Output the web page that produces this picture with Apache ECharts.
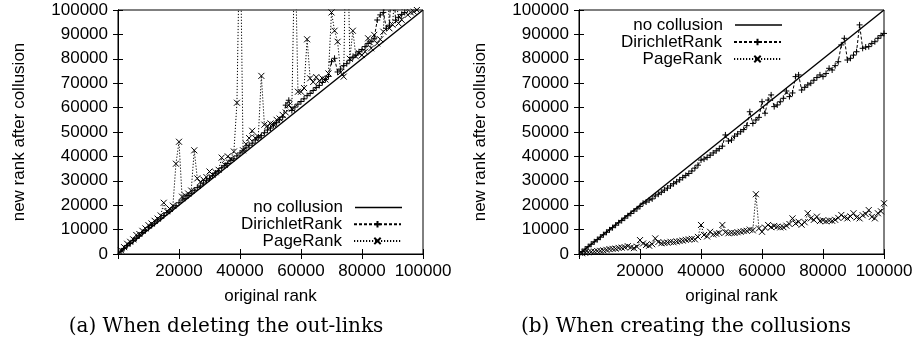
<!DOCTYPE html>
<html>
<head>
<meta charset="utf-8">
<script src="https://cdn.jsdelivr.net/npm/echarts@6/dist/echarts.min.js"></script>
<style>
  html, body { margin: 0; padding: 0; background: #ffffff; }
  #chart { width: 917px; height: 343px; }
</style>
</head>
<body>
<div id="chart"></div>
<script>
// original rank of each sampled page (x values)
const ranks = [
  1000, 2000, 3000, 4000, 5000, 6000, 7000, 8000, 9000, 10000,
  11000, 12000, 13000, 14000, 15000, 16000, 17000, 18000, 19000, 20000,
  21000, 22000, 23000, 24000, 25000, 26000, 27000, 28000, 29000, 30000,
  31000, 32000, 33000, 34000, 35000, 36000, 37000, 38000, 39000, 40000,
  41000, 42000, 43000, 44000, 45000, 46000, 47000, 48000, 49000, 50000,
  51000, 52000, 53000, 54000, 55000, 56000, 57000, 58000, 59000, 60000,
  61000, 62000, 63000, 64000, 65000, 66000, 67000, 68000, 69000, 70000,
  71000, 72000, 73000, 74000, 75000, 76000, 77000, 78000, 79000, 80000,
  81000, 82000, 83000, 84000, 85000, 86000, 87000, 88000, 89000, 90000,
  91000, 92000, 93000, 94000, 95000, 96000, 97000, 98000, 99000, 100000
];

// (a) deleting the out-links
const delDirichlet = [
  1200, 2300, 3500, 4300, 5600, 6400, 7500, 8800, 9600, 10800,
  11700, 12600, 13900, 14700, 15800, 16900, 17600, 18900, 19800, 21000,
  22100, 22800, 24000, 24900, 26100, 27200, 27900, 29100, 30200, 31000,
  32100, 33200, 34000, 35300, 36200, 37100, 38400, 39000, 40200, 41400,
  42300, 43500, 44600, 45400, 46700, 47800, 48500, 49700, 50800, 51600,
  52900, 53800, 55000, 56100, 61000, 63000, 58800, 60200, 61400, 62500,
  63600, 64900, 65800, 67000, 68200, 69100, 70300, 71500, 72800, 78800,
  80200, 74600, 75800, 77200, 78000, 79400, 80600, 81500, 82900, 83800,
  85000, 86300, 87000, 88400, 95900, 98000, 99000, 92500, 93800, 120000,
  95800, 97000, 98200, 99000, 100500, 101500, 102000, 103000, 104000, 105000
];
const delPageRank = [
  1500, 2800, 4200, 5000, 6000, 7800, 8200, 9500, 10500, 11800,
  12500, 13600, 14500, 15800, 21000, 17500, 18500, 19800, 37000, 46000,
  23500, 24000, 24800, 26000, 42500, 31000, 29500, 30500, 31500, 33800,
  32500, 33500, 34500, 39500, 36500, 40000, 39000, 42000, 62000, 140000,
  42500, 45000, 47500, 50500, 47500, 48000, 73000, 53000, 52500, 53500,
  53000, 55000, 55500, 57000, 58000, 61000, 59500, 130000, 66500, 66500,
  68000, 88000, 72000, 70500, 72500, 71000, 72000, 71500, 74000, 99000,
  91500, 87000, 74500, 72700, 150000, 80000, 91500, 81000, 82300, 81500,
  82900, 88400, 84300, 89800, 86300, 88000, 91100, 120000, 92500, 94000,
  110000, 94500, 96000, 125000, 98000, 99000, 99300, 100000, 100500, 101000
];

// (b) creating the collusions
const colDirichlet = [
  1000, 2000, 3000, 4000, 5000, 5900, 6900, 7900, 8900, 9900,
  10800, 11800, 12800, 13700, 14700, 15700, 16600, 17600, 18500, 19500,
  20800, 21300, 22100, 22600, 23800, 24500, 25300, 26200, 27000, 27900,
  28800, 29600, 30400, 31300, 32200, 33000, 34000, 35200, 36400, 38500,
  38900, 39600, 40500, 41400, 42300, 43200, 44200, 48800, 46300, 46700,
  48300, 49200, 50100, 51000, 52600, 58300, 53500, 54900, 56000, 62400,
  57700, 63100, 65200, 60400, 61100, 62400, 63800, 66800, 64500, 66000,
  72700, 73400, 67200, 68300, 69300, 70000, 71200, 72300, 73400, 72700,
  74000, 76100, 75400, 77200, 78800, 85700, 88400, 79500, 80200, 81500,
  82900, 93900, 84300, 84800, 85000, 86300, 87000, 88400, 89500, 90400
];
const colPageRank = [
  300, 500, 700, 900, 1000, 1200, 1300, 1500, 1700, 2000,
  2100, 2200, 2500, 2600, 2800, 3200, 2700, 2400, 3000, 5700,
  4300, 3700, 3400, 4000, 6400, 4900, 4400, 4500, 4700, 5000,
  4800, 5100, 5300, 5500, 5800, 6000, 6200, 6000, 7000, 11900,
  7800, 7200, 9100, 8000, 8300, 8600, 11900, 8900, 8500, 8700,
  8600, 8900, 9100, 9400, 9500, 10000, 9700, 24500, 10500, 9100,
  10800, 11900, 11000, 11500, 11200, 10900, 11000, 11600, 12300, 14600,
  12500, 13200, 12000, 13000, 16700, 14600, 14000, 15300, 13500, 13800,
  13400, 13700, 13600, 14000, 14800, 16000, 15000, 14600, 15400, 16700,
  15000, 14600, 15900, 16400, 18000, 15200, 14600, 16700, 17500, 20800
];

// reference diagonal (rank unchanged)
const diagX = [0, 100000];
const diagY = [0, 100000];

const axisMin = 0;
const axisMax = 100000;
const xStep = 20000;
const yStep = 10000;
const captions = ["(a) When deleting the out-links", "(b) When creating the collusions"];

const sans = "Liberation Sans";
const plusPath = "path://M0,5L10,5M5,0L5,10";
const crossPath = "path://M0,0L10,10M10,0L0,10";

function pairs(xs, ys) {
  return xs.map((x, i) => [x, ys[i]]);
}

// plain numbers, no thousands separator
const plain = (v) => String(v);

function mainX(gridIndex) {
  return {
    type: "value", gridIndex, min: axisMin, max: axisMax, interval: xStep,
    name: "original rank", nameLocation: "middle", nameGap: 34,
    nameTextStyle: { fontFamily: sans, fontSize: 17, color: "#000" },
    axisLine: { show: true, lineStyle: { color: "#000", width: 1 } },
    axisTick: { show: true, inside: true, length: 5, lineStyle: { color: "#000" } },
    axisLabel: {
      margin: 9, fontFamily: sans, fontSize: 17, color: "#000",
      formatter: (v) => (v === 0 ? "" : plain(v)),
    },
    splitLine: { show: false },
  };
}
function mirrorX(gridIndex) {
  return {
    type: "value", gridIndex, position: "top", min: axisMin, max: axisMax, interval: xStep,
    axisLine: { show: true, lineStyle: { color: "#000", width: 1 } },
    axisTick: { show: true, inside: true, length: 5, lineStyle: { color: "#000" } },
    axisLabel: { show: false },
    splitLine: { show: false },
  };
}
function mainY(gridIndex) {
  return {
    type: "value", gridIndex, min: axisMin, max: axisMax, interval: yStep,
    name: "new rank after collusion", nameLocation: "middle", nameGap: 90,
    nameTextStyle: { fontFamily: sans, fontSize: 17, color: "#000" },
    axisLine: { show: true, lineStyle: { color: "#000", width: 1 } },
    axisTick: { show: true, inside: true, length: 5, lineStyle: { color: "#000" } },
    axisLabel: { margin: 10, fontFamily: sans, fontSize: 17, color: "#000", formatter: plain },
    splitLine: { show: false },
  };
}
function mirrorY(gridIndex) {
  return {
    type: "value", gridIndex, position: "right", min: axisMin, max: axisMax, interval: yStep,
    axisLine: { show: true, lineStyle: { color: "#000", width: 1 } },
    axisTick: { show: true, inside: true, length: 5, lineStyle: { color: "#000" } },
    axisLabel: { show: false },
    splitLine: { show: false },
  };
}

function seriesFor(axisIndex, dirichlet, pagerank) {
  return [
    {
      name: "no collusion", type: "line", xAxisIndex: axisIndex, yAxisIndex: axisIndex,
      data: pairs(diagX, diagY), symbol: "none",
      lineStyle: { color: "#000", width: 1.4 }, itemStyle: { color: "#000" },
    },
    {
      name: "DirichletRank", type: "line", xAxisIndex: axisIndex, yAxisIndex: axisIndex,
      data: pairs(ranks, dirichlet), symbol: plusPath, symbolSize: 6,
      lineStyle: { color: "#000", width: 1, type: [3, 2] },
      itemStyle: { color: "#000", borderColor: "#000", borderWidth: 1 },
    },
    {
      name: "PageRank", type: "line", xAxisIndex: axisIndex, yAxisIndex: axisIndex,
      data: pairs(ranks, pagerank), symbol: crossPath, symbolSize: 6,
      lineStyle: { color: "#000", width: 1, type: [1.2, 1.8] },
      itemStyle: { color: "#000", borderColor: "#000", borderWidth: 1 },
    },
  ];
}

function legendRow(name, right, top) {
  const solid = name === "no collusion";
  return {
    data: [solid ? { name, icon: "rect" } : name], right, top,
    orient: "horizontal", align: "right",
    padding: 0, itemWidth: 47, itemHeight: solid ? 1.4 : 8, selectedMode: false,
    textStyle: { fontFamily: sans, fontSize: 17, color: "#000", padding: [0, 7, 0, 0] },
  };
}

const names = ["no collusion", "DirichletRank", "PageRank"];
const legendA = names.map((n, i) => legendRow(n, 515, 199 + i * 16.7));
const legendB = names.map((n, i) => legendRow(n, 135, 16.5 + i * 17));

const chart = echarts.init(document.getElementById("chart"));
chart.setOption({
  animation: false,
  backgroundColor: "#fff",
  grid: [
    { left: 118, top: 10, width: 305, height: 244, show: true, borderColor: "#000", borderWidth: 1 },
    { left: 579, top: 10, width: 305, height: 244, show: true, borderColor: "#000", borderWidth: 1 },
  ],
  xAxis: [mainX(0), mirrorX(0), mainX(1), mirrorX(1)],
  yAxis: [mainY(0), mirrorY(0), mainY(1), mirrorY(1)],
  legend: legendA.concat(legendB),
  series: seriesFor(0, delDirichlet, delPageRank).concat(seriesFor(2, colDirichlet, colPageRank)),
  graphic: [
    { type: "text", x: 226, y: 327, style: { text: captions[0], fontFamily: "DejaVu Serif", fontSize: 20, fill: "#000", align: "center", verticalAlign: "middle" } },
    { type: "text", x: 686, y: 327, style: { text: captions[1], fontFamily: "DejaVu Serif", fontSize: 20, fill: "#000", align: "center", verticalAlign: "middle" } },
  ],
});
</script>
</body>
</html>
